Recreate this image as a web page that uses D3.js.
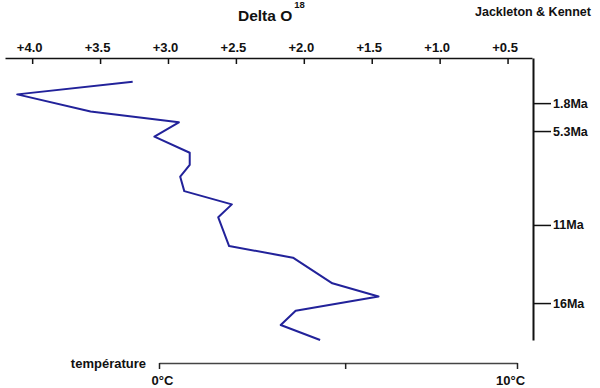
<!DOCTYPE html>
<html>
<head>
<meta charset="utf-8">
<script src="https://cdn.jsdelivr.net/npm/d3@7"></script>
<style>
  body { margin: 0; background: #fff; }
  svg { display: block; font-family: "Liberation Sans", Arial, sans-serif; font-weight: bold; }
</style>
</head>
<body>
<div id="chart"></div>
<script>
// Delta O18 curve vs. depth (Jackleton & Kennet)

// delta O18 values, top to bottom
const deltaO = [3.26, 4.11, 3.57, 2.92, 3.10, 2.84, 2.84, 2.91, 2.88, 2.53,
                2.63, 2.55, 2.08, 1.79, 1.45, 2.06, 2.17, 1.88];
// relative depth of each sample (0 = top of column, 100 = bottom)
const depth = [8.4, 12.9, 19.0, 22.8, 27.9, 33.6, 37.9, 42.1, 47.2, 51.9,
               56.5, 66.7, 70.8, 79.9, 84.6, 89.6, 94.7, 100];

const deltaTicks = [4.0, 3.5, 3.0, 2.5, 2.0, 1.5, 1.0, 0.5];
const ageLabels = ["1.8Ma", "5.3Ma", "11Ma", "16Ma"];
const ageDepth = [16.0, 25.9, 59.2, 86.9];
const tempTicks = [0, 5.2, 10];
const tempLabels = {0: "0°C", 10: "10°C"};

(function() {
    const width = 600, height = 388;

    const svg = d3.select("#chart")
        .append("svg")
        .attr("width", width)
        .attr("height", height);

    const x = d3.scaleLinear().domain([4.2, 0.32]).range([5, 532]);
    const y = d3.scaleLinear().domain([0, 100]).range([58, 340]);
    const t = d3.scaleLinear().domain([0, 10]).range([159, 517]);

    // title
    const title = svg.append("text")
        .attr("x", 238)
        .attr("y", 21)
        .attr("font-size", 15.5)
        .attr("fill", "#111");
    title.append("tspan").text("Delta O");
    title.append("tspan")
        .attr("dx", 2)
        .attr("dy", -13)
        .attr("font-size", 9.5)
        .text("18");

    svg.append("text")
        .attr("x", 591)
        .attr("y", 16)
        .attr("text-anchor", "end")
        .attr("font-size", 12.5)
        .attr("fill", "#111")
        .text("Jackleton & Kennet");

    // top axis (delta O18)
    const top = svg.append("g")
        .attr("transform", `translate(0,${y(0)})`)
        .call(d3.axisTop(x)
            .tickValues(deltaTicks)
            .tickSize(-6)
            .tickSizeOuter(0)
            .tickPadding(6)
            .tickFormat(d => "+" + d3.format(".1f")(d)));
    top.select(".domain").attr("stroke", "#111").attr("stroke-width", 1.5);
    top.selectAll(".tick line").attr("stroke", "#111").attr("stroke-width", 1.5);
    top.selectAll(".tick text")
        .attr("dx", -3)
        .attr("font-size", 13)
        .attr("font-family", "Liberation Sans, Arial, sans-serif")
        .attr("font-weight", "bold")
        .attr("fill", "#111");

    // right axis (ages)
    const right = svg.append("g")
        .attr("transform", `translate(${x.range()[1] + 1},0)`)
        .call(d3.axisRight(y)
            .tickValues(ageDepth)
            .tickSize(18)
            .tickSizeOuter(0)
            .tickPadding(2)
            .tickFormat((d, i) => ageLabels[i]));
    right.select(".domain").attr("stroke", "#111").attr("stroke-width", 2);
    right.selectAll(".tick line").attr("stroke", "#111").attr("stroke-width", 1.5);
    right.selectAll(".tick text")
        .attr("font-size", 12.5)
        .attr("font-family", "Liberation Sans, Arial, sans-serif")
        .attr("font-weight", "bold")
        .attr("fill", "#111");

    // bottom axis (temperature)
    const bottom = svg.append("g")
        .attr("transform", "translate(0,363)")
        .call(d3.axisBottom(t)
            .tickValues(tempTicks)
            .tickSize(6)
            .tickSizeOuter(0)
            .tickPadding(7)
            .tickFormat(d => tempLabels[d] || ""));
    bottom.select(".domain").attr("stroke", "#444").attr("stroke-width", 1.5);
    bottom.selectAll(".tick line").attr("stroke", "#222").attr("stroke-width", 1.5);
    bottom.selectAll(".tick text")
        .attr("dx", d => d === 0 ? 3 : -7)
        .attr("font-size", 13)
        .attr("font-family", "Liberation Sans, Arial, sans-serif")
        .attr("font-weight", "bold")
        .attr("fill", "#111");

    svg.append("text")
        .attr("x", 146)
        .attr("y", 368)
        .attr("text-anchor", "end")
        .attr("font-size", 13)
        .attr("fill", "#111")
        .text("température");

    // curve
    const pts = deltaO.map((d, i) => ({v: d, depth: depth[i]}));
    const line = d3.line()
        .x(d => x(d.v))
        .y(d => y(d.depth));

    svg.append("path")
        .datum(pts)
        .attr("fill", "none")
        .attr("stroke", "#22229a")
        .attr("stroke-width", 2)
        .attr("stroke-linejoin", "round")
        .attr("d", line);
})();
</script>
</body>
</html>
